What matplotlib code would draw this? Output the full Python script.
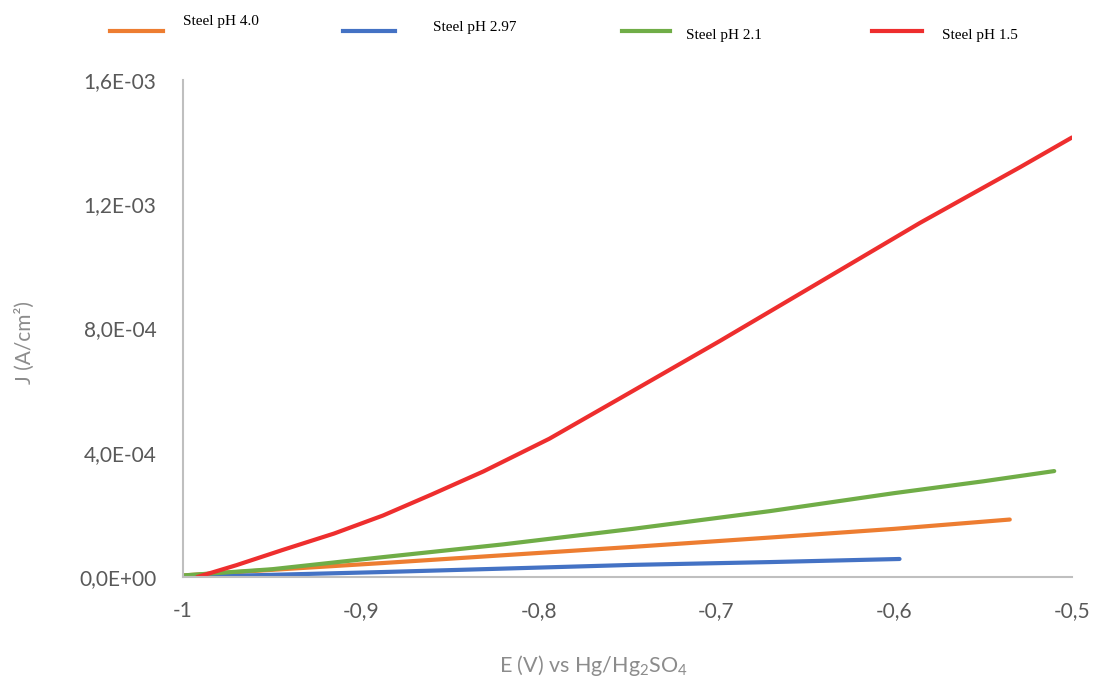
import matplotlib.pyplot as plt
from matplotlib.lines import Line2D
from matplotlib.ticker import FuncFormatter

plt.rcParams['mathtext.fontset'] = 'custom'
plt.rcParams['mathtext.rm'] = 'Lato'

# potential (V vs Hg/Hg2SO4) and current density (A/cm2)
e_40 = [-1.0, -0.95, -0.8875, -0.82, -0.747, -0.67, -0.6, -0.535]
j_40 = [5e-6, 2.3e-5, 4.5e-5, 7.0e-5, 9.7e-5, 1.27e-4, 1.55e-4, 1.85e-4]

e_297 = [-1.0, -0.95, -0.8875, -0.82, -0.747, -0.67, -0.597]
j_297 = [0.0, 7e-6, 1.6e-5, 2.7e-5, 3.9e-5, 4.8e-5, 5.8e-5]

e_21 = [-1.0, -0.95, -0.8875, -0.82, -0.747, -0.67, -0.6, -0.55, -0.51]
j_21 = [5e-6, 2.5e-5, 6.4e-5, 1.05e-4, 1.55e-4, 2.12e-4, 2.70e-4, 3.08e-4, 3.41e-4]

e_15 = [-0.992, -0.97, -0.944, -0.915, -0.8875, -0.86, -0.831, -0.794, -0.7543,
        -0.698, -0.6417, -0.5855, -0.529, -0.5]
j_15 = [0.0, 3.8e-5, 8.7e-5, 1.4e-4, 1.98e-4, 2.66e-4, 3.4e-4, 4.45e-4, 5.75e-4,
        7.6e-4, 9.5e-4, 1.14e-3, 1.32e-3, 1.415e-3]

labels = ["Steel pH 4.0", "Steel pH 2.97", "Steel pH 2.1", "Steel pH 1.5"]
colors = ["#ED7D31", "#4472C4", "#70AD47", "#EE2E2E"]

fig = plt.figure(figsize=(10.95, 6.8), dpi=100)
ax = fig.add_axes([183/1095, 1-577/680, (1072-183)/1095, (577-80)/680])

series = [(e_40, j_40), (e_297, j_297), (e_21, j_21), (e_15, j_15)]
for (e, j), c in zip(series, colors):
    ax.plot(e, j, color=c, lw=3, solid_capstyle='round', solid_joinstyle='round')

ax.set_xlim(-1, -0.5)
ax.set_ylim(0, 1.6e-3)
ax.set_xticks([-1, -0.9, -0.8, -0.7, -0.6, -0.5])
ax.set_yticks([0, 4e-4, 8e-4, 1.2e-3, 1.6e-3])

def xfmt(v, p):
    s = "%g" % round(v, 2)
    return s.replace(".", ",")

def yfmt(v, p):
    s = "%.1E" % v
    return s.replace(".", ",")

ax.xaxis.set_major_formatter(FuncFormatter(xfmt))
ax.yaxis.set_major_formatter(FuncFormatter(yfmt))
ax.tick_params(length=0, labelsize=15, labelcolor='#595959')
ax.tick_params(axis='y', pad=19)
ax.tick_params(axis='x', pad=17)
for lab in ax.get_xticklabels() + ax.get_yticklabels():
    lab.set_family('Lato')

for s in ['top', 'right']:
    ax.spines[s].set_visible(False)
for s in ['left', 'bottom']:
    ax.spines[s].set_color('#BFBFBF')
    ax.spines[s].set_linewidth(1.5)

fig.text(25/1095, 1-343/680, "J (A/cm²)", rotation=90, ha='center', va='center',
         fontsize=15, color='#8C8C8C', family='Lato')
fig.text(594/1095, 1-665/680, r"E (V) vs Hg/Hg$_\mathregular{2}$SO$_\mathregular{4}$",
         ha='center', va='center', fontsize=15.5, color='#8C8C8C', family='Lato')

# legend drawn across the top
hx = [110, 343, 622, 872]
hw = [53, 52, 48, 50]
tx = [183, 433, 686, 942]
ty = [22, 27, 36, 36]
for i in range(4):
    fig.add_artist(Line2D([hx[i]/1095, (hx[i]+hw[i])/1095], [1-31/680, 1-31/680],
                          color=colors[i], lw=3, transform=fig.transFigure))
    fig.text(tx[i]/1095, 1-ty[i]/680, labels[i], ha='left', va='center',
             fontsize=11, family='Liberation Serif', color='black')

fig.savefig("out.png", dpi=100)
